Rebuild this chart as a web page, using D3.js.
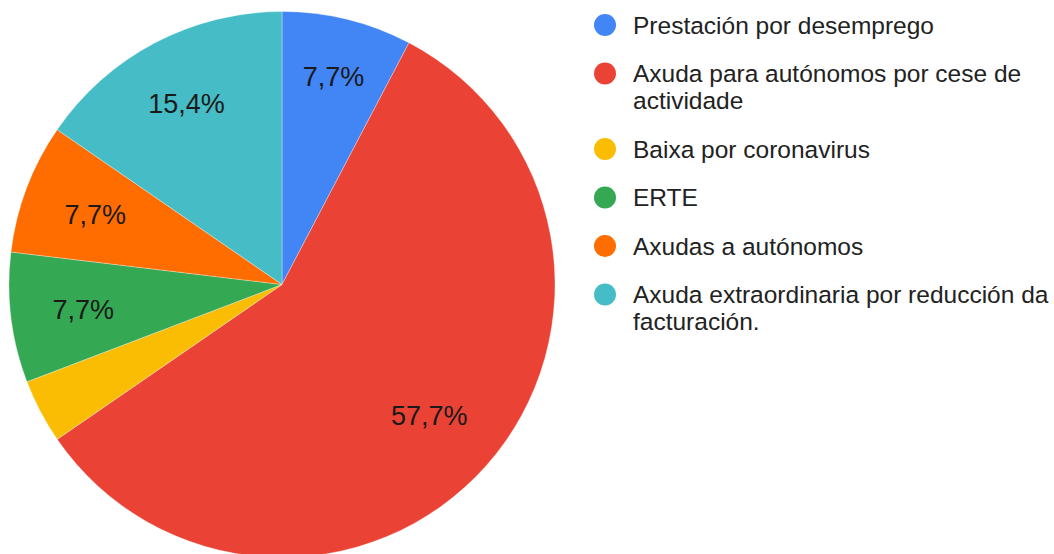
<!DOCTYPE html>
<html>
<head>
<meta charset="utf-8">
<script src="https://cdn.jsdelivr.net/npm/d3@7"></script>
<style>
  html, body { margin: 0; padding: 0; background: #fff; }
  svg { display: block; font-family: "Liberation Sans", Arial, sans-serif; }
</style>
</head>
<body>
<div id="chart"></div>
<script>
// data
const categories = [
  "Prestación por desemprego",
  "Axuda para autónomos por cese de actividade",
  "Baixa por coronavirus",
  "ERTE",
  "Axudas a autónomos",
  "Axuda extraordinaria por reducción da facturación."
]
const shares = [7.7, 57.7, 3.8, 7.7, 7.7, 15.4]
const colors = ["#4285f4", "#ea4335", "#fbbc04", "#34a853", "#ff6d01", "#46bdc6"]

const width = 1054, height = 554
const cx = 282, cy = 284.5, radius = 273

const gl = d3.formatLocale({ decimal: ",", thousands: ".", grouping: [3], currency: ["", "€"] })
const fmtPct = gl.format(".1%")

const svg = d3.select('#chart')
  .append('svg')
  .attr('width', width)
  .attr('height', height)

const total = d3.sum(shares)
const pie = d3.pie().sort(null).value(d => d)
const arcs = pie(shares)
const arc = d3.arc().innerRadius(0).outerRadius(radius)

const g = svg.append('g').attr('transform', `translate(${cx},${cy})`)

g.selectAll('path.slice')
  .data(arcs)
  .enter()
  .append('path')
  .attr('class', 'slice')
  .attr('d', arc)
  .attr('fill', (d, i) => colors[i])
  .attr('stroke', '#fff')
  .attr('stroke-width', 0.4)
  .attr('stroke-opacity', 0.8)

// slice labels: outer corner of the text box sits on a fixed circle
const labelOuter = 232
const labels = g.selectAll('text.pct')
  .data(arcs.filter(d => d.value / total >= 0.05))
  .enter()
  .append('text')
  .attr('class', 'pct')
  .style('font-size', '27px')
  .style('fill', '#1a1a1a')
  .attr('text-anchor', 'middle')
  .text(d => fmtPct(d.value / total))

labels.each(function (d) {
  const a = (d.startAngle + d.endAngle) / 2
  const hw = this.getComputedTextLength() / 2
  const hh = 10
  const dist = labelOuter - (hw * Math.abs(Math.sin(a)) + hh * Math.abs(Math.cos(a)))
  const x = dist * Math.sin(a)
  const y = -dist * Math.cos(a)
  d3.select(this).attr('x', x).attr('y', y + 10)
})

// legend
const legend = svg.append('g').attr('transform', 'translate(605,25)')
const lineH = 27, rowGap = 48.5, maxW = 420
let yPos = 0

categories.forEach((name, i) => {
  const row = legend.append('g').attr('transform', `translate(0,${yPos})`)
  row.append('circle')
    .attr('r', 11)
    .attr('fill', colors[i])

  const text = row.append('text')
    .attr('x', 28)
    .attr('y', 8.5)
    .style('font-size', '24.5px')
    .style('fill', '#222')

  // wrap words to the legend width
  const words = name.split(' ')
  let line = []
  let lineNo = 0
  let tspan = text.append('tspan').attr('x', 28).attr('dy', 0)
  words.forEach(w => {
    line.push(w)
    tspan.text(line.join(' '))
    if (tspan.node().getComputedTextLength() > maxW && line.length > 1) {
      line.pop()
      tspan.text(line.join(' '))
      line = [w]
      lineNo += 1
      tspan = text.append('tspan').attr('x', 28).attr('dy', lineH).text(w)
    }
  })

  yPos += rowGap + lineNo * lineH
})
</script>
</body>
</html>
